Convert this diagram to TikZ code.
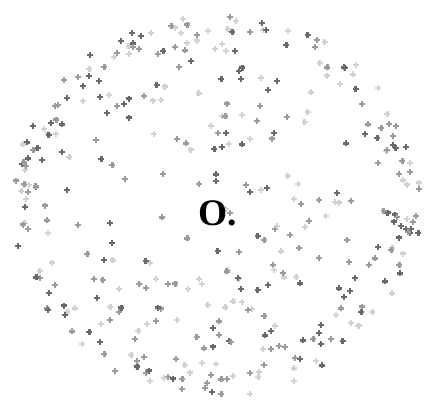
\documentclass[tikz,border=0pt]{standalone}
\usepackage{tikz}
\usepackage{fontspec}
\setmainfont{Liberation Serif}
\usetikzlibrary{calc}
\definecolor{darkdot}{RGB}{105,105,105}
\definecolor{middot}{RGB}{155,155,155}
\definecolor{lightdot}{RGB}{210,210,210}

\begin{document}
\begin{tikzpicture}[
  x=0.03cm, y=0.03cm,
  pm/.style={line width=1.9pt},
  shade1/.style={pm, darkdot},
  shade2/.style={pm, middot},
  shade3/.style={pm, lightdot},
  lbl/.style={font=\fontsize{32}{32}\selectfont\bfseries, text=black}
]
\useasboundingbox (0,0) rectangle (428,403);
\pgfmathsetseed{4711}

% --- Centro ---
\coordinate (C) at (216,199);

% --- Pontos no interior ---
\foreach \i in {1,...,250}{
  \pgfmathsetmacro{\rr}{sqrt(rnd)}
  \pgfmathsetmacro{\aa}{360*rnd}
  \pgfmathrandominteger{\cc}{1}{3}
  \pgfmathsetmacro{\px}{216+200*\rr*cos(\aa)}
  \pgfmathsetmacro{\py}{199+188*\rr*sin(\aa)}
  \draw[shade\cc] (\px-3,\py) -- (\px+3,\py) (\px,\py-3) -- (\px,\py+3);
}

% --- Pontos na borda ---
\foreach \i in {1,...,130}{
  \pgfmathsetmacro{\rr}{0.88+0.12*rnd}
  \pgfmathsetmacro{\aa}{360*rnd}
  \pgfmathrandominteger{\cc}{1}{3}
  \pgfmathsetmacro{\px}{216+205*\rr*cos(\aa)}
  \pgfmathsetmacro{\py}{199+193*\rr*sin(\aa)}
  \draw[shade\cc] (\px-3,\py) -- (\px+3,\py) (\px,\py-3) -- (\px,\py+3);
}

% --- Rotulo ---
\node[lbl] (O) at (218,190) {O.};

\end{tikzpicture}
\end{document}
